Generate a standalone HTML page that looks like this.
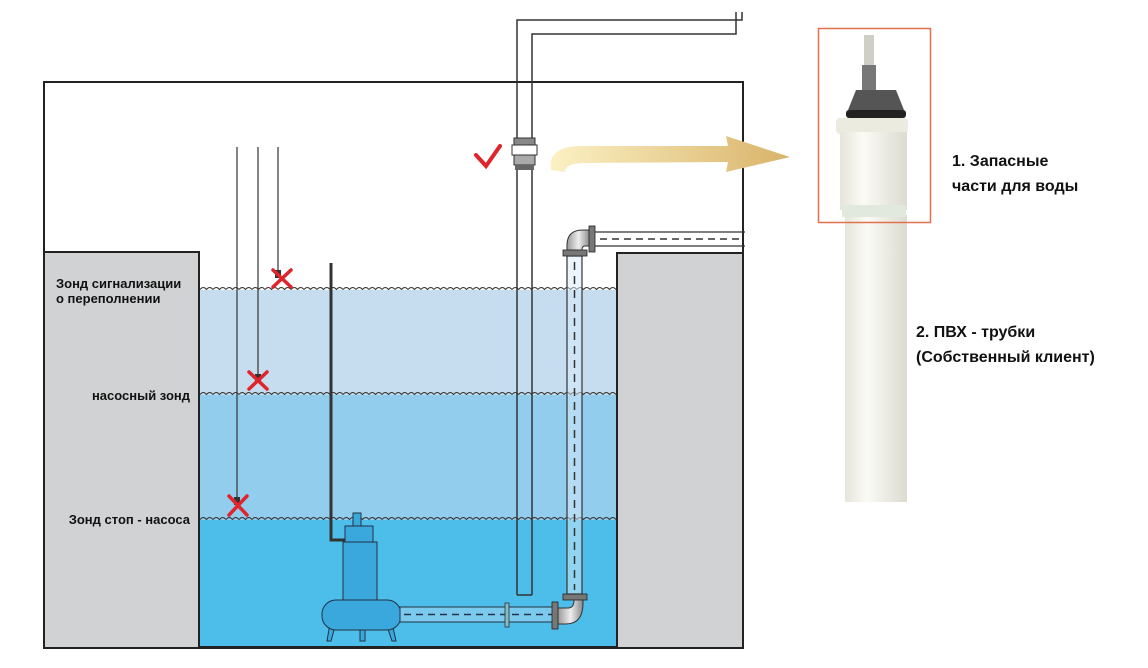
<!DOCTYPE html>
<html><head><meta charset="utf-8"><style>
html,body{margin:0;padding:0;background:#fff;}
svg{display:block;}
text{font-family:"Liberation Sans",sans-serif;font-weight:bold;fill:#111;}
</style></head><body>
<svg width="1148" height="668" viewBox="0 0 1148 668" xmlns="http://www.w3.org/2000/svg">
<defs>
<pattern id="wv" x="200" y="285" width="13" height="5" patternUnits="userSpaceOnUse">
<path d="M0 4.5 Q3.25 0.5 6.5 4.5 Q9.75 0.5 13 4.5" fill="none" stroke="#333" stroke-width="1"/>
</pattern>
<linearGradient id="arr" x1="0" x2="1" y1="0" y2="0">
<stop offset="0" stop-color="#fbf1c4"/><stop offset="1" stop-color="#d9b36a"/>
</linearGradient>
<linearGradient id="tube" x1="0" x2="1">
<stop offset="0" stop-color="#e6e5da"/><stop offset="0.35" stop-color="#fbfbf6"/><stop offset="1" stop-color="#dcdbd0"/>
</linearGradient>
<linearGradient id="pipeg" x1="0" x2="1">
<stop offset="0" stop-color="#999"/><stop offset="0.5" stop-color="#eee"/><stop offset="1" stop-color="#888"/>
</linearGradient>
</defs>
<rect x="44" y="82" width="699" height="566" fill="#fff" stroke="#222" stroke-width="2"/>
<rect x="44" y="252" width="155" height="396" fill="#d1d2d4" stroke="#222" stroke-width="2"/>
<rect x="617" y="253" width="126" height="395" fill="#d1d2d4" stroke="#222" stroke-width="2"/>
<rect x="200" y="290" width="416" height="106" fill="#c6ddf0"/>
<rect x="200" y="395" width="416" height="126" fill="#93cdee"/>
<rect x="200" y="520" width="416" height="127" fill="#4dbde9"/>
<rect x="200" y="285" width="416" height="5" fill="url(#wv)"/>
<rect x="200" y="390" width="416" height="5" fill="url(#wv)"/>
<rect x="200" y="515" width="416" height="5" fill="url(#wv)"/>
<line x1="199" y1="647" x2="617" y2="647" stroke="#222" stroke-width="2"/>
<g stroke="#333" stroke-width="1.2">
<line x1="237" y1="147" x2="237" y2="500"/>
<line x1="258" y1="147" x2="258" y2="375"/>
<line x1="278" y1="147" x2="278" y2="272"/>
</g>
<rect x="275" y="270" width="6" height="8" fill="#333"/>
<rect x="255" y="374" width="6" height="8" fill="#333"/>
<rect x="234" y="497" width="6" height="8" fill="#333"/>
<g stroke="#e0242b" stroke-width="3.5" stroke-linecap="round">
<line x1="273" y1="270" x2="291" y2="287"/><line x1="291" y1="270" x2="273" y2="287"/>
<line x1="249" y1="372" x2="267" y2="389"/><line x1="267" y1="372" x2="249" y2="389"/>
<line x1="229" y1="496" x2="247" y2="515"/><line x1="247" y1="496" x2="229" y2="515"/>
</g>
<path d="M331 263 V540 H346" fill="none" stroke="#333" stroke-width="3"/>
<g fill="#3aa7dd" stroke="#234" stroke-width="1">
<rect x="353" y="513" width="8" height="14"/>
<rect x="345" y="526" width="28" height="16"/>
<rect x="343" y="542" width="34" height="60"/>
<path d="M330 623 L327 641 H331 L336 623 Z"/><path d="M360 623 V641 H365 V623 Z"/><path d="M386 623 L392 641 H396 L392 623 Z"/>
<rect x="322" y="600" width="79" height="30" rx="14"/>
</g>
<rect x="400" y="607" width="156" height="15" fill="#7cc9ee" stroke="#234" stroke-width="1"/>
<line x1="404" y1="614.5" x2="552" y2="614.5" stroke="#234" stroke-width="1.5" stroke-dasharray="7,5"/>
<rect x="505" y="603" width="4" height="24" fill="#8bb" stroke="#234" stroke-width="0.8"/>
<rect x="552" y="602" width="6" height="27" fill="#777" stroke="#222" stroke-width="0.8"/>
<path d="M558 608 H568 Q574 608 574 600 V598 H583 V603 Q583 624 566 624 H558 Z" fill="url(#pipeg)" stroke="#333"/>
<rect x="563" y="594" width="24" height="6" fill="#777" stroke="#222" stroke-width="0.8"/>
<rect x="567" y="256" width="15" height="338" fill="#d8ecf7" fill-opacity="0.5" stroke="#333" stroke-width="1.2"/>
<line x1="574.5" y1="262" x2="574.5" y2="590" stroke="#333" stroke-width="1.5" stroke-dasharray="8,6"/>
<rect x="563" y="250" width="24" height="6" fill="#777" stroke="#222" stroke-width="0.8"/>
<path d="M567 250 V245 Q567 230 583 230 H590 V246 H585 Q582 246 582 250 Z" fill="url(#pipeg)" stroke="#333"/>
<rect x="589" y="226" width="6" height="26" fill="#777" stroke="#222" stroke-width="0.8"/>
<path d="M595 232 H745 M595 246 H745" stroke="#333" stroke-width="1.2"/>
<line x1="600" y1="239" x2="740" y2="239" stroke="#333" stroke-width="1.5" stroke-dasharray="7,5"/>
<path d="M517 595 V20 H742 V12" fill="none" stroke="#333" stroke-width="1.5"/>
<path d="M532 595 V34 H736 V12" fill="none" stroke="#333" stroke-width="1.5"/>
<line x1="517" y1="595" x2="532" y2="595" stroke="#333" stroke-width="1.5"/>
<rect x="514" y="138" width="21" height="7" fill="#888" stroke="#333"/>
<rect x="512" y="145" width="25" height="10" fill="#fff" stroke="#333"/>
<rect x="514" y="155" width="21" height="10" fill="#aaa" stroke="#333"/>
<rect x="515" y="165" width="19" height="5" fill="#666"/>
<path d="M476 155 L486 166 L500 146" fill="none" stroke="#e0242b" stroke-width="4" stroke-linecap="round"/>
<path d="M551 170 Q547 147 580 146 L728 146 L726 136 L790 157 L726 172 L728 162 L585 163 Q565 163 565 172 Z" fill="url(#arr)"/>
<rect x="845" y="215" width="62" height="287" fill="url(#tube)"/>
<rect x="864" y="35" width="10" height="35" fill="#cfcfc8"/>
<rect x="862" y="65" width="14" height="25" fill="#777"/>
<path d="M848 110 L856 90 H896 L904 110 Z" fill="#555"/>
<rect x="846" y="110" width="60" height="8" rx="3" fill="#222"/>
<rect x="836" y="118" width="72" height="16" rx="4" fill="#ecebe0"/>
<rect x="840" y="132" width="67" height="78" fill="url(#tube)"/>
<rect x="842" y="205" width="64" height="12" fill="#e1e8dd"/>
<rect x="818.5" y="28.5" width="112" height="194" fill="none" stroke="#e07050" stroke-width="1.5"/>
<text x="56" y="288" font-size="13">Зонд сигнализации</text>
<text x="56" y="303" font-size="13">о переполнении</text>
<text x="190" y="400" font-size="13" text-anchor="end">насосный зонд</text>
<text x="190" y="524" font-size="13" text-anchor="end">Зонд стоп - насоса</text>
<text x="952" y="166" font-size="16">1. Запасные</text>
<text x="952" y="191" font-size="16">части для воды</text>
<text x="916" y="337" font-size="16">2. ПВХ - трубки</text>
<text x="916" y="362" font-size="16">(Собственный клиент)</text>
</svg>
</body></html>
